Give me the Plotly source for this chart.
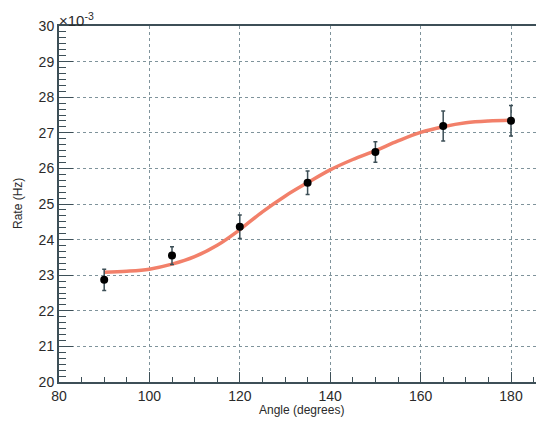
import plotly.graph_objects as go

# Measured data (rate in units of 1e-3 Hz)
angles = [90, 105, 120, 135, 150, 165, 180]
rate = [22.87, 23.55, 24.36, 25.60, 26.46, 27.19, 27.34]
rate_err = [0.30, 0.25, 0.33, 0.33, 0.29, 0.42, 0.43]

# Fit curve
fit_angle = [90, 95, 100, 105, 110, 115, 120, 125, 130, 135, 140, 145, 150, 155, 160, 165, 170, 175, 180]
fit_rate = [23.08, 23.11, 23.17, 23.31, 23.52, 23.84, 24.28, 24.78, 25.22, 25.60, 25.96, 26.25,
            26.50, 26.77, 27.01, 27.17, 27.28, 27.33, 27.35]

x_ticks = [80, 100, 120, 140, 160, 180]
y_ticks = [20, 21, 22, 23, 24, 25, 26, 27, 28, 29, 30]

axis_col = "#3d4f57"
font_fam = "Liberation Sans, Arial, Helvetica, sans-serif"

fig = go.Figure()
fig.add_trace(go.Scatter(
    x=fit_angle, y=fit_rate, mode="lines",
    line=dict(color="rgb(242,128,106)", width=3.5, shape="spline"),
    hoverinfo="skip", showlegend=False,
))
fig.add_trace(go.Scatter(
    x=angles, y=rate, mode="markers",
    marker=dict(color="black", size=8),
    error_y=dict(type="data", array=rate_err, color=axis_col, thickness=1.5, width=2),
    showlegend=False,
))

# the page body adds an 8 px offset, so the figure is sized to fit the window
fig.update_layout(
    width=536, height=413,
    margin=dict(l=51, r=0, t=18, b=39, autoexpand=False),
    paper_bgcolor="white", plot_bgcolor="white",
    font=dict(family=font_fam, color="#2a2a2a"),
    xaxis=dict(
        range=[80, 187.3], tickvals=x_ticks, ticktext=[str(v) for v in x_ticks],
        automargin=False,
        ticks="inside", ticklen=10, tickwidth=1.2, tickcolor=axis_col,
        showline=True, linecolor=axis_col, linewidth=2, mirror=True,
        showgrid=True, gridcolor="#7f939b", griddash="dot", gridwidth=1,
        zeroline=False,
        tickfont=dict(size=14, color="#2a2a2a"),
        minor=dict(dtick=5, ticks="inside", ticklen=5, tickcolor=axis_col, showgrid=False),
    ),
    yaxis=dict(
        range=[20, 30], tickvals=y_ticks, ticktext=[str(v) for v in y_ticks],
        automargin=False,
        ticks="inside", ticklen=14, tickwidth=1.2, tickcolor=axis_col,
        showline=True, linecolor=axis_col, linewidth=2,
        showgrid=True, gridcolor="#7f939b", griddash="dot", gridwidth=1,
        zeroline=False,
        tickfont=dict(size=14, color="#2a2a2a"),
        minor=dict(tick0=20, dtick=1/6, ticks="inside", ticklen=7, tickcolor=axis_col, showgrid=False),
    ),
    annotations=[
        dict(xref="paper", yref="paper", x=0, y=1, xanchor="left", yanchor="bottom",
             text="×10<sup>-3</sup>", showarrow=False, font=dict(size=15, color="#2a2a2a"),
             xshift=-2, yshift=-5),
        dict(xref="paper", yref="paper", x=0.5, y=0, xanchor="center", yanchor="middle",
             text="Angle (degrees)", showarrow=False, font=dict(size=12, color="#2a2a2a"),
             yshift=-28),
        dict(xref="paper", yref="paper", x=0, y=0.5, xanchor="center", yanchor="middle",
             text="Rate (Hz)", textangle=-90, showarrow=False, font=dict(size=12, color="#2a2a2a"),
             xshift=-41),
    ],
)

fig.write_html("out.html")
